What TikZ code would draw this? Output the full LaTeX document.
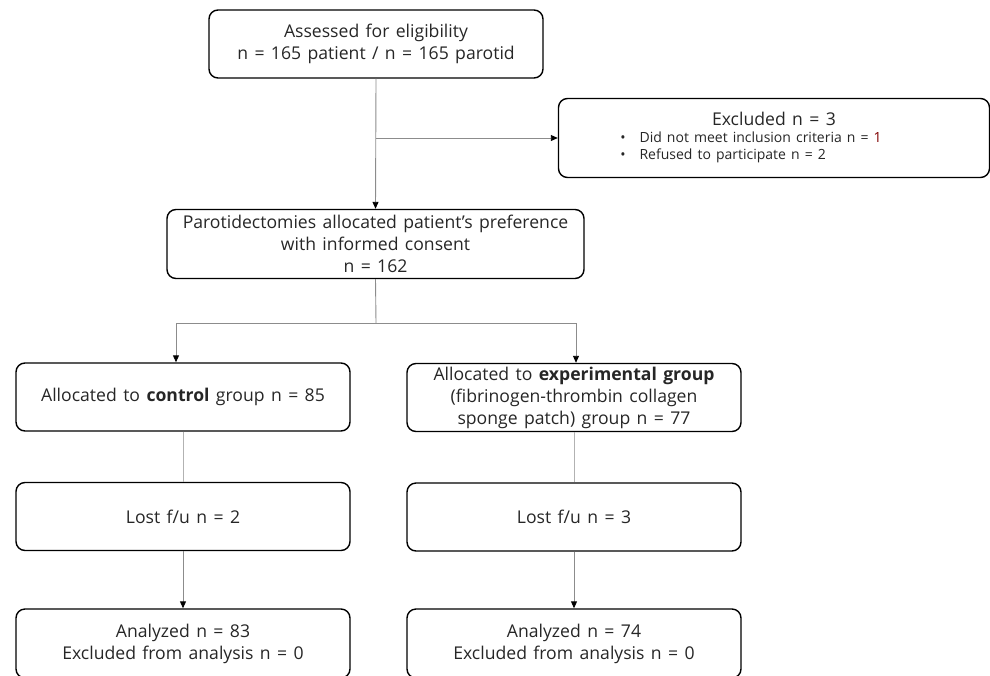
\documentclass[tikz,border=0pt]{standalone}
\usepackage{fontspec}
\setmainfont{Open Sans}[WordSpace=1.4]
\usetikzlibrary{arrows.meta}

\tikzset{
  flow/.style={draw=black, line width=1.4pt, rounded corners=9pt, align=center, inner sep=0pt, minimum width=334pt, minimum height=68pt, text=black!85, font=\fontsize{17.6}{22}\selectfont},
  link/.style={draw=black!45, line width=0.9pt},
  tip/.style={link, -{Triangle[length=7pt, width=6pt, black]}}
}

\begin{document}
\begin{tikzpicture} [x=1pt, y=-1pt]
\useasboundingbox (0,0) rectangle (990,675);
\clip (0,0) rectangle (990,675);

\node[flow] (assess) at (376,44) {Assessed for eligibility\\ n = 165 patient / n = 165 parotid};
\node[flow, minimum width=431pt, minimum height=79pt] (excl) at (774,138) {Excluded n = 3\\[-5pt]
  {\fontsize{14}{17}\selectfont\begin{tabular}[t]{@{}l@{}}\textbullet\quad Did not meet inclusion criteria n = \textcolor{red!50!black}{1}\\ \textbullet\quad Refused to participate n = 2\end{tabular}}\hspace*{46pt}};
\node[flow, minimum width=417pt, minimum height=69pt] (alloc) at (375.5,244) {Parotidectomies allocated patient's preference\\ with informed consent\\ n = 162};

\node[flow] (ctrl) at (183,397) {Allocated to \textbf{control} group n = 85};
\node[flow] (expt) at (574,397.5) {Allocated to \textbf{experimental group}\\ (fibrinogen-thrombin collagen\\ sponge patch) group n = 77};
\node[flow] (lostc) at (183,516.5) {Lost f/u n = 2};
\node[flow] (loste) at (574,517) {Lost f/u n = 3};
\node[flow, minimum height=69pt] (anac) at (183,643.5) {Analyzed n = 83\\ Excluded from analysis n = 0};
\node[flow, minimum height=69pt] (anae) at (574,643.5) {Analyzed n = 74\\ Excluded from analysis n = 0};

% connectors
\draw[tip] (assess.south) -- (alloc.north);
\coordinate (branch) at (376,138);
\draw[tip] (branch) -- (excl.west);
\coordinate (split) at (376,323);
\draw[link] (alloc.south) -- (split);
\draw[tip] (split) -| ([xshift=-7pt]ctrl.north);
\draw[tip] (split) -| ([xshift=2pt]expt.north);

\foreach \a/\b in {ctrl/lostc, expt/loste} \draw[link, draw=black!30] (\a.south) -- (\b.north);
\foreach \a/\b in {lostc/anac, loste/anae} \draw[tip] (\a.south) -- (\b.north);

\end{tikzpicture}
\end{document}
